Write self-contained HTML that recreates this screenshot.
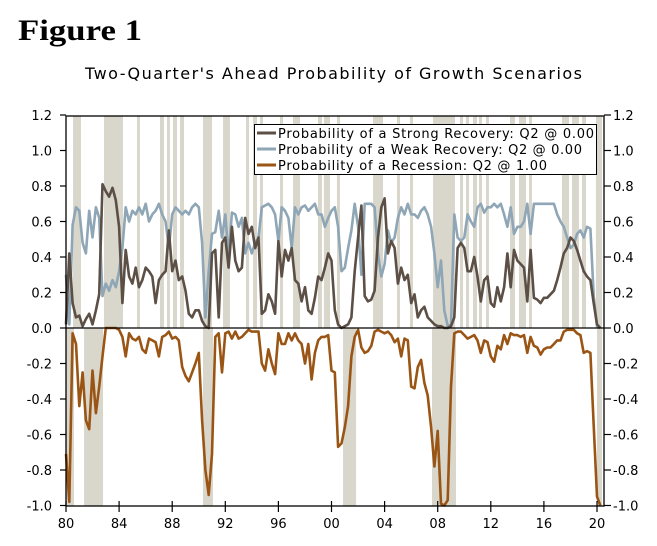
<!DOCTYPE html>
<html><head><meta charset="utf-8">
<style>
body{margin:0;background:#fff;width:657px;height:546px;overflow:hidden}
svg{display:block}
text{font-family:"DejaVu Sans","Liberation Sans",sans-serif}
</style></head>
<body>
<svg id="chart" width="657" height="546" viewBox="0 0 657 546">
<text x="18" y="40" font-weight="bold" font-size="30" textLength="124" lengthAdjust="spacingAndGlyphs" style="font-family:'Liberation Serif',serif">Figure 1</text>
<text x="85" y="79" font-size="16" textLength="497" lengthAdjust="spacing">Two-Quarter's Ahead Probability of Growth Scenarios</text>
<g id="bands"></g>
<g id="lines"></g>
<g id="axes"></g>
<g>
<rect x="254.5" y="124.5" width="342" height="50" fill="#fff" stroke="#000" stroke-width="1"/>
<line x1="257" y1="133" x2="276" y2="133" stroke="#5c4f45" stroke-width="3"/>
<text x="278" y="138" font-size="13" textLength="316" lengthAdjust="spacing">Probability of a Strong Recovery: Q2 @ 0.00</text>
<line x1="257" y1="149" x2="276" y2="149" stroke="#8ea6b5" stroke-width="3"/>
<text x="278" y="154" font-size="13" textLength="304" lengthAdjust="spacing">Probability of a Weak Recovery: Q2 @ 0.00</text>
<line x1="257" y1="165" x2="276" y2="165" stroke="#9a5515" stroke-width="3"/>
<text x="278" y="170" font-size="13" textLength="269" lengthAdjust="spacing">Probability of a Recession: Q2 @ 1.00</text>
</g>
</svg>
<script>
const startYear = 1980;
const strongRecovery = [0.02,0.42,0.14,0.06,0.07,0.01,0.05,0.08,0.02,0.10,0.19,0.81,0.77,0.74,0.79,0.72,0.57,0.14,0.44,0.29,0.25,0.34,0.23,0.27,0.34,0.32,0.29,0.14,0.27,0.30,0.32,0.55,0.32,0.38,0.27,0.29,0.21,0.08,0.06,0.10,
0.10,0.04,0.01,0.0,0.42,0.44,0.06,0.48,0.51,0.34,0.57,0.38,0.32,0.34,0.62,0.53,0.57,0.45,0.51,0.08,0.10,0.19,0.15,0.08,0.49,0.29,0.44,0.38,0.45,0.27,0.25,0.15,0.23,0.10,0.08,0.17,0.29,0.27,0.34,0.42,
0.38,0.10,0.02,0.0,0.01,0.02,0.06,0.32,0.51,0.69,0.18,0.15,0.16,0.21,0.51,0.68,0.73,0.42,0.49,0.45,0.25,0.34,0.27,0.30,0.14,0.19,0.06,0.10,0.12,0.06,0.04,0.02,0.01,0.01,0.0,0.0,0.01,0.06,0.45,0.48,
0.45,0.32,0.32,0.40,0.29,0.15,0.27,0.29,0.14,0.12,0.23,0.15,0.23,0.42,0.23,0.44,0.38,0.36,0.34,0.15,0.44,0.17,0.16,0.14,0.17,0.17,0.19,0.21,0.27,0.34,0.42,0.45,0.51,0.49,0.44,0.38,0.32,0.29,0.27,0.14,0.02,0.0];
const weakRecovery = [0.30,0.02,0.58,0.68,0.66,0.48,0.42,0.66,0.51,0.68,0.62,0.18,0.25,0.21,0.27,0.23,0.32,0.45,0.68,0.60,0.66,0.64,0.68,0.64,0.70,0.60,0.64,0.66,0.70,0.64,0.60,0.45,0.64,0.68,0.66,0.64,0.66,0.64,0.68,0.70,
0.68,0.48,0.06,0.32,0.53,0.54,0.66,0.51,0.64,0.40,0.65,0.64,0.57,0.62,0.42,0.48,0.42,0.48,0.51,0.68,0.69,0.70,0.68,0.64,0.49,0.68,0.66,0.62,0.45,0.68,0.64,0.68,0.69,0.66,0.68,0.70,0.64,0.64,0.57,0.62,
0.66,0.68,0.57,0.32,0.34,0.45,0.55,0.70,0.57,0.30,0.70,0.70,0.70,0.68,0.42,0.29,0.36,0.55,0.48,0.51,0.62,0.68,0.64,0.70,0.64,0.64,0.62,0.66,0.68,0.64,0.57,0.42,0.23,0.38,0.10,0.01,0.02,0.64,0.51,0.49,
0.51,0.64,0.60,0.57,0.68,0.70,0.65,0.68,0.68,0.70,0.68,0.70,0.64,0.57,0.68,0.53,0.57,0.57,0.60,0.70,0.53,0.70,0.70,0.70,0.70,0.70,0.70,0.70,0.64,0.60,0.57,0.51,0.45,0.47,0.53,0.55,0.51,0.57,0.56,0.18,0.01,0.0];
const recession = [-0.71,-0.98,-0.03,-0.09,-0.44,-0.25,-0.52,-0.57,-0.24,-0.48,-0.33,-0.16,0,0,0,0,-0.01,-0.05,-0.16,-0.03,
-0.06,-0.07,-0.05,-0.12,-0.14,-0.06,-0.07,-0.08,-0.16,-0.05,-0.04,-0.02,-0.06,-0.05,-0.07,-0.22,-0.27,-0.30,-0.25,-0.20,
-0.14,-0.52,-0.80,-0.94,-0.71,-0.05,-0.03,-0.25,-0.03,-0.02,-0.06,-0.02,-0.06,-0.05,-0.03,-0.01,-0.02,-0.02,-0.02,-0.20,
-0.24,-0.12,-0.20,-0.26,-0.03,-0.09,-0.09,-0.03,-0.07,-0.03,-0.07,-0.09,-0.20,-0.09,-0.29,-0.14,-0.07,-0.05,-0.05,-0.04,
-0.24,-0.25,-0.67,-0.65,-0.56,-0.44,-0.16,-0.05,-0.01,-0.11,-0.14,-0.13,-0.10,-0.02,-0.01,-0.02,-0.03,-0.02,-0.04,-0.08,
-0.06,-0.16,-0.06,-0.07,-0.33,-0.34,-0.22,-0.18,-0.31,-0.38,-0.56,-0.78,-0.58,-0.99,-1.0,-0.97,-0.33,-0.03,-0.02,-0.02,
-0.04,-0.06,-0.05,-0.04,-0.07,-0.14,-0.07,-0.08,-0.16,-0.19,-0.10,-0.12,-0.04,-0.09,-0.03,-0.04,-0.04,-0.05,-0.04,-0.14,
-0.05,-0.10,-0.11,-0.15,-0.12,-0.11,-0.11,-0.09,-0.07,-0.07,-0.02,-0.01,-0.01,-0.01,-0.03,-0.04,-0.14,-0.13,-0.14,-0.55,-0.95,-1.0];
const upperBandStarts = [1980.53,1982.86,1985.35,1987.08,1987.61,1988.06,1988.59,1990.32,1991.83,1993.56,1994.09,1994.61,1996.12,1997.1,1998.98,1999.43,2000.41,2003.13,2004.93,2005.91,2007.65,2009.68,2010.13,2010.66,2011.11,2011.64,2013.45,2014.12,2014.88,2017.36,2018.12,2018.87,2019.92];
const upperBandEnds = [1981.13,1984.29,1985.57,1987.38,1987.83,1988.36,1988.89,1991.0,1992.35,1993.79,1994.39,1994.84,1996.35,1997.63,1999.28,1999.89,2000.64,2003.88,2005.16,2006.14,2009.3,2009.91,2010.36,2010.96,2011.34,2011.86,2013.82,2014.65,2015.1,2017.89,2018.64,2019.17,2020.38];
const lowerBandStarts = [1980.0,1981.36,1990.32,2000.87,2007.57,2020.0];
const lowerBandEnds = [1980.6,1982.79,1991.07,2001.85,2009.38,2020.38];
const yTicks = [1.2,1.0,0.8,0.6,0.4,0.2,0.0,-0.2,-0.4,-0.6,-0.8,-1.0];
const xTickYears = [1980,1984,1988,1992,1996,2000,2004,2008,2012,2016,2020];
const xTickLabels = ["80","84","88","92","96","00","04","08","12","16","20"];

const L=66,R=604,T=116,B=506;
const xs = yr => L + (yr-1980)*13.275;
const ys = v => 328 - v*177.5;
const NS="http://www.w3.org/2000/svg";
function mk(tag,attrs,parent){const e=document.createElementNS(NS,tag);for(const k in attrs)e.setAttribute(k,attrs[k]);parent.appendChild(e);return e;}
const bands=document.getElementById('bands'), lines=document.getElementById('lines'), axes=document.getElementById('axes');
upperBandStarts.forEach((s,i)=>{
  const r=mk('rect',{x:xs(s),y:T,width:xs(upperBandEnds[i])-xs(s),height:328-T,fill:'#d9d6cc'},bands);
  
  
});
lowerBandStarts.forEach((s,i)=>{
  const r=mk('rect',{x:xs(s),y:328,width:xs(lowerBandEnds[i])-xs(s),height:B-328,fill:'#d9d6cc'},bands);
  
  
});
function series(arr,color,name){
  const pts=arr.map((v,i)=>xs(startYear+i/4).toFixed(1)+','+ys(v).toFixed(1)).join(' ');
  const p=mk('polyline',{points:pts,fill:'none',stroke:color,'stroke-width':2.6,'stroke-linejoin':'round'},lines);
  
  
}
series(weakRecovery,'#8ea6b5','weak-recovery-line');
series(strongRecovery,'#5c4f45','strong-recovery-line');
series(recession,'#9a5515','recession-line');
const frame=mk('rect',{x:L,y:T,width:R-L,height:B-T,fill:'none',stroke:'#000','stroke-width':1.3},axes);


const zl=mk('line',{x1:L,x2:R,y1:ys(0),y2:ys(0),stroke:'#000','stroke-width':1.3},axes);


yTicks.forEach(v=>{
  const y=ys(v);
  mk('line',{x1:L-6,x2:L,y1:y,y2:y,stroke:'#000','stroke-width':1.2},axes);
  mk('line',{x1:R,x2:R+7,y1:y,y2:y,stroke:'#000','stroke-width':1.2},axes);
  const t1=mk('text',{x:L-14,y:y+5,'text-anchor':'end','font-size':13},axes);
  t1.textContent=v.toFixed(1);
  
  
  const t2=mk('text',{x:R+9,y:y+5,'text-anchor':'start','font-size':13},axes);
  t2.textContent=v.toFixed(1);
  
  
});
xTickYears.forEach((yr,i)=>{
  const x=xs(yr);
  mk('line',{x1:x,x2:x,y1:B-5,y2:B+6,stroke:'#000','stroke-width':1.2},axes);
  const t=mk('text',{x:x,y:B+22,'text-anchor':'middle','font-size':13},axes);
  t.textContent=xTickLabels[i];
  
  
});
</script>
</body></html>
